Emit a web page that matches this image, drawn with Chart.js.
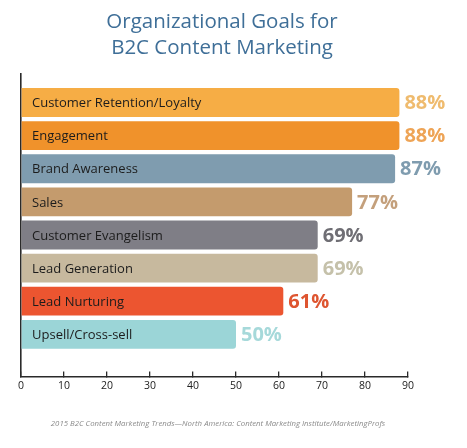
<!DOCTYPE html>
<html>
<head>
<meta charset="utf-8">
<script src="https://cdn.jsdelivr.net/npm/chart.js@4/dist/chart.umd.min.js"></script>
<style>
  html, body { margin: 0; padding: 0; background: #fff; }
  #wrap { width: 467px; height: 448px; position: relative; }
</style>
</head>
<body>
<div id="wrap"><canvas id="chart"></canvas></div>
<script>
// Data
const goals = [
    'Customer Retention/Loyalty', 'Engagement', 'Brand Awareness', 'Sales',
    'Customer Evangelism', 'Lead Generation', 'Lead Nurturing', 'Upsell/Cross-sell'
];
const percents = [88, 88, 87, 77, 69, 69, 61, 50];
const xTicks = [0, 10, 20, 30, 40, 50, 60, 70, 80, 90];
const titleLines = ['Organizational Goals for', 'B2C Content Marketing'];
const sourceNote = '2015 B2C Content Marketing Trends\u2014North America: Content Marketing Institute/MarketingProfs';

// Colours
const barColors = ['#f6ad45', '#f0922b', '#7f9caf', '#c49b6d', '#7f7e86', '#c7b99e', '#ec5530', '#9bd5d7'];
const valueColors = ['#efbb6e', '#eea456', '#7f9caf', '#c4a07c', '#6f6e74', '#c5c1aa', '#de5530', '#a6d9da'];
const FONT = '"Open Sans", "Noto Sans", sans-serif';

// Labels inside bars + values after them, title, source
const barText = {
    id: 'barText',
    afterDatasetsDraw(chart) {
        const ctx = chart.ctx;
        const meta = chart.getDatasetMeta(0);
        ctx.save();
        ctx.textBaseline = 'middle';
        meta.data.forEach((bar, i) => {
            ctx.font = '13px ' + FONT;
            ctx.fillStyle = '#1c1c1c';
            ctx.textAlign = 'left';
            ctx.fillText(goals[i], chart.chartArea.left + 11, bar.y + 1);
            ctx.font = 'bold 20px ' + FONT;
            ctx.fillStyle = valueColors[i];
            ctx.fillText(percents[i] + '%', bar.x + 5, bar.y + 1);
        });
        ctx.restore();
    },
    afterDraw(chart) {
        const ctx = chart.ctx;
        ctx.save();
        ctx.textAlign = 'center';
        ctx.textBaseline = 'middle';
        ctx.fillStyle = '#3f6f98';
        ctx.font = '20.5px ' + FONT;
        ctx.fillText(titleLines[0], 222, 22);
        ctx.fillText(titleLines[1], 222, 48);
        ctx.fillStyle = '#8a8a8a';
        ctx.font = 'italic 7.8px ' + FONT;
        ctx.fillText(sourceNote, 218, 424);
        ctx.restore();
    }
};

new Chart(document.getElementById('chart'), {
    type: 'bar',
    data: {
        datasets: [{
            data: percents.map((v, i) => ({ x: v, y: i })),
            backgroundColor: barColors,
            borderRadius: { topRight: 3, bottomRight: 3, topLeft: 0, bottomLeft: 0 },
            borderSkipped: 'left',
            categoryPercentage: 1,
            barPercentage: 0.87
        }]
    },
    options: {
        indexAxis: 'y',
        responsive: true,
        maintainAspectRatio: false,
        animation: false,
        layout: { padding: { top: 74, left: 21, right: 59, bottom: 48 } },
        plugins: {
            legend: { display: false },
            tooltip: { enabled: false },
            title: { display: false }
        },
        scales: {
            x: {
                type: 'linear',
                min: 0,
                max: 90,
                afterBuildTicks: (scale) => { scale.ticks = xTicks.map(v => ({ value: v })); },
                grid: {
                    drawOnChartArea: false,
                    drawTicks: true,
                    tickLength: -5,
                    color: '#2a2a2a',
                    lineWidth: 1.3
                },
                border: { color: '#2a2a2a', width: 1.6 },
                ticks: {
                    padding: 8,
                    color: '#222',
                    font: { family: FONT, size: 10.5 }
                }
            },
            y: {
                type: 'linear',
                reverse: true,
                offset: false,
                min: -0.86,
                max: 8.27,
                afterBuildTicks: (scale) => { scale.ticks = goals.map((g, i) => ({ value: i })); },
                grid: { display: false, drawTicks: false, offset: false },
                border: { color: '#2a2a2a', width: 1.6 },
                ticks: { display: false }
            }
        }
    },
    plugins: [barText]
});
</script>
</body>
</html>
